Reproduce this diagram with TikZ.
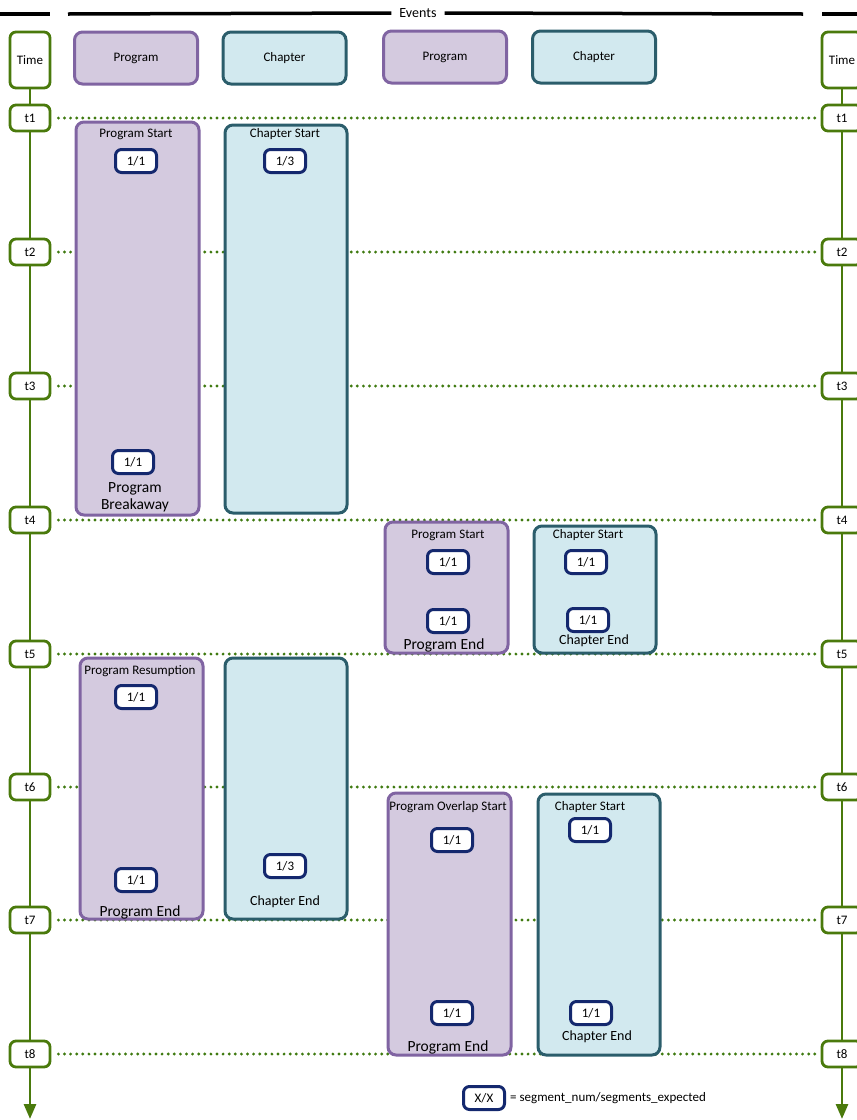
\documentclass[tikz,border=0pt]{standalone}
\usepackage{fontspec}
\setmainfont{Carlito}
\usetikzlibrary{arrows.meta}
\definecolor{progfill}{HTML}{D4CADF}
\definecolor{progborder}{HTML}{8064A2}
\definecolor{chapfill}{HTML}{D2E9EF}
\definecolor{chapborder}{HTML}{2B5D6B}
\definecolor{tgreen}{HTML}{4A7A0C}
\definecolor{dotgreen}{HTML}{3F7A10}
\definecolor{navy}{HTML}{14286E}
\newcommand\myfsmall{\fontsize{13}{15}\selectfont}
\newcommand\myfmid{\fontsize{14}{16}\selectfont}
\newcommand\myfbig{\fontsize{15.5}{17}\selectfont}
\tikzset{
  tbox/.style={draw=tgreen, line width=2.8pt, fill=white, rounded corners=6pt,
    minimum width=40pt, minimum height=26pt, inner sep=0pt, font=\myfsmall},
  timebox/.style={tbox, minimum height=56pt},
  axis/.style={draw=tgreen, line width=2.8pt},
  dotline/.style={draw=dotgreen, line width=3.2pt, line cap=round, dash pattern=on 0pt off 6.1pt},
  topline/.style={draw=black, line width=3.5pt},
  hdrprog/.style={fill=progfill, draw=progborder, line width=3pt, rounded corners=8pt,
    minimum width=123pt, minimum height=52pt, inner sep=0pt, font=\myfsmall},
  hdrchap/.style={hdrprog, fill=chapfill, draw=chapborder},
  evprog/.style={fill=progfill, draw=progborder, line width=3pt, rounded corners=8pt,
    anchor=north west, inner sep=0pt, minimum width=123pt, xshift=1.5pt, yshift=-1.5pt},
  evchap/.style={evprog, fill=chapfill, draw=chapborder, minimum width=122pt},
  badge/.style={draw=navy, line width=3pt, fill=white, rounded corners=6pt,
    minimum width=41pt, minimum height=23pt, inner sep=0pt, font=\myfsmall},
  lbl/.style={inner sep=0pt, font=\myfsmall},
  lblmid/.style={inner sep=0pt, font=\myfmid},
  lblbig/.style={inner sep=0pt, font=\myfbig, align=center},
}
\begin{document}
\begin{tikzpicture}[x=1pt,y=-1pt]
\useasboundingbox (0,0) rectangle (857,1120);
% top lines
\node[inner sep=0pt, font=\myfmid] (events) at (418,13) {Events};
\coordinate (tl1a) at (0,14); \coordinate (tl1b) at (50,14);
\coordinate (tl2a) at (68,14); \coordinate (tl3b) at (803,14);
\coordinate (tl4a) at (822,14); \coordinate (tl4b) at (857,14);
\draw[topline] (tl1a) -- (tl1b);
\draw[topline] (tl2a) -- ([xshift=-8pt]events.west);
\draw[topline] ([xshift=8pt]events.east) -- (tl3b);
\draw[topline] (tl4a) -- (tl4b);
% time columns
\node[timebox] (timeL) at (30,60) {Time};
\node[timebox] (timeR) at (842,60) {Time};
\foreach \i/\y in {1/118,2/252,3/386,4/520,5/654,6/787,7/920,8/1054}{
  \node[tbox] (tL\i) at (30,\y) {t\i};
  \node[tbox] (tR\i) at (842,\y) {t\i};
  \draw[dotline] ([xshift=7pt]tL\i.east) -- ([xshift=-5pt]tR\i.west);
}
\coordinate (endL) at (30,1119);
\coordinate (endR) at (842,1119);
\foreach \s in {L,R}{
  \draw[axis] (time\s.south) -- (t\s1.north);
  \draw[axis] (t\s1.south) -- (t\s2.north);
  \draw[axis] (t\s2.south) -- (t\s3.north);
  \draw[axis] (t\s3.south) -- (t\s4.north);
  \draw[axis] (t\s4.south) -- (t\s5.north);
  \draw[axis] (t\s5.south) -- (t\s6.north);
  \draw[axis] (t\s6.south) -- (t\s7.north);
  \draw[axis] (t\s7.south) -- (t\s8.north);
  \draw[axis, -{Triangle[length=15pt,width=12pt]}] (t\s8.south) -- (end\s);
}
% headers
\node[hdrprog] (h1) at (136,58) {Program};
\node[hdrchap] (h2) at (284.5,58) {Chapter};
\node[hdrprog] (h3) at (445,57) {Program};
\node[hdrchap] (h4) at (594,57) {Chapter};
% event 1: program
\node[evprog, minimum height=393pt] (p1) at (73,119) {};
\node[lbl] (p1s) at (136,134) {Program Start};
\node[badge] (p1b1) at (136,161) {1/1};
\node[badge] (p1b2) at (133,462) {1/1};
\node[lblbig] (p1e) at (135,497) {Program\\Breakaway};
% event 1: chapter
\node[evchap, minimum height=388pt] (c1) at (222,122) {};
\node[lbl] (c1s) at (285,134) {Chapter Start};
\node[badge] (c1b1) at (285,161) {1/3};
% event 2: program
\node[evprog, minimum height=131pt] (p2) at (382,519) {};
\node[lbl] (p2s) at (448,535) {Program Start};
\node[badge] (p2b1) at (448,562) {1/1};
\node[badge] (p2b2) at (448,621) {1/1};
\node[lblbig] (p2e) at (444,645) {Program End};
% event 2: chapter
\node[evchap, minimum height=127pt] (c2) at (531,523) {};
\node[lbl] (c2s) at (588,535) {Chapter Start};
\node[badge] (c2b1) at (586,562) {1/1};
\node[badge] (c2b2) at (588,620) {1/1};
\node[lblmid] (c2e) at (594,641) {Chapter End};
% event 3: program
\node[evprog, minimum height=261pt] (p3) at (77,655) {};
\node[lbl] (p3s) at (140,671) {Program Resumption};
\node[badge] (p3b1) at (136,697) {1/1};
\node[badge] (p3b2) at (136,880) {1/1};
\node[lblbig] (p3e) at (140,912) {Program End};
% event 3: chapter
\node[evchap, minimum height=261pt] (c3) at (222,655) {};
\node[badge] (c3b1) at (285,866) {1/3};
\node[lblmid] (c3e) at (285,902) {Chapter End};
% event 4: program
\node[evprog, minimum height=262pt] (p4) at (385,790) {};
\node[lbl] (p4s) at (448,807) {Program Overlap Start};
\node[badge] (p4b1) at (452,840) {1/1};
\node[badge] (p4b2) at (452,1013) {1/1};
\node[lblbig] (p4e) at (448,1047) {Program End};
% event 4: chapter
\node[evchap, minimum height=261pt] (c4) at (535,791) {};
\node[lbl] (c4s) at (590,807) {Chapter Start};
\node[badge] (c4b1) at (590,830) {1/1};
\node[badge] (c4b2) at (591,1013) {1/1};
\node[lblmid] (c4e) at (597,1037) {Chapter End};
% legend
\node[badge] (leg) at (484,1098) {X/X};
\node[lbl, anchor=west] (legt) at (510,1098) {= segment\_num/segments\_expected};
\end{tikzpicture}
\end{document}
